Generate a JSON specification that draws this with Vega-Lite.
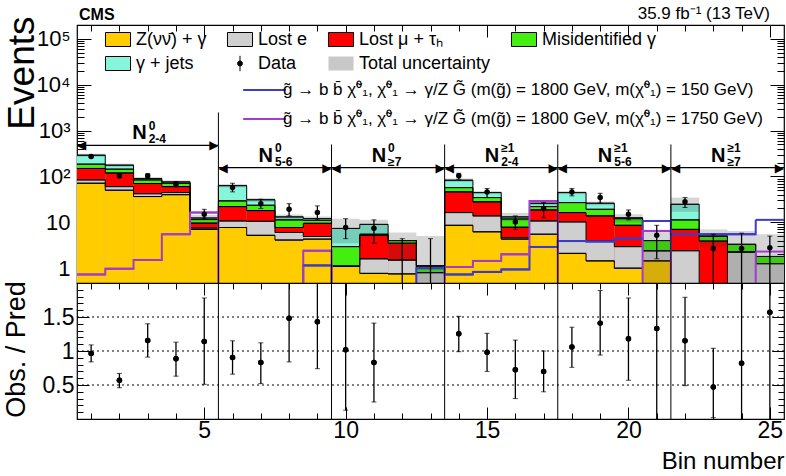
{
"$schema": "https://vega.github.io/schema/vega-lite/v6.json",
"padding": {"left": 1, "top": 4, "right": 2, "bottom": 2},
"spacing": 0,
"bounds": "flush",
"config": {
  "font": "Liberation Sans",
  "view": {"stroke": "black", "strokeWidth": 1.2},
  "axis": {"domain": false, "grid": false, "tickColor": "black", "tickWidth": 1, "labelColor": "black", "titleColor": "black", "labelFont": "Liberation Sans", "titleFont": "Liberation Sans", "titleFontWeight": "normal", "labelOverlap": false, "labelBound": false, "labelFlush": false},
  "legend": {"labelFont": "Liberation Sans", "labelColor": "black"},
  "text": {"font": "Liberation Sans", "color": "black"}
},
"datasets": {
"bins": [
{"bin":1,"lo":0.5,"hi":1.5,"Z":71,"E":13,"Mu":65,"Mis":36,"GJ":105,"data":272,"dlo":258,"dhi":288,"ulo":268,"uhi":312,"r":0.965,"rlo":0.84,"rhi":1.09,"s150":0.2,"s1750":0.73},
{"bin":2,"lo":1.5,"hi":2.5,"Z":50,"E":10,"Mu":59,"Mis":25,"GJ":32,"data":103,"dlo":93,"dhi":114,"ulo":162,"uhi":190,"r":0.57,"rlo":0.46,"rhi":0.67,"s150":0.2,"s1750":0.97},
{"bin":3,"lo":2.5,"hi":3.5,"Z":36.4,"E":5.6,"Mu":28,"Mis":14,"GJ":6,"data":103,"dlo":93,"dhi":114,"ulo":83,"uhi":97,"r":1.156,"rlo":0.91,"rhi":1.4,"s150":0.2,"s1750":1.51},
{"bin":4,"lo":3.5,"hi":4.5,"Z":40,"E":4.5,"Mu":15.5,"Mis":11,"GJ":5,"data":67.6,"dlo":59,"dhi":77,"ulo":70,"uhi":82,"r":0.887,"rlo":0.63,"rhi":1.13,"s150":0.2,"s1750":5.5},
{"bin":5,"lo":4.5,"hi":5.5,"Z":7.0,"E":0.5,"Mu":2.1,"Mis":1.9,"GJ":0.9,"data":15,"dlo":12,"dhi":19.2,"ulo":10.5,"uhi":14.5,"r":1.14,"rlo":0.51,"rhi":1.78,"s150":0.2,"s1750":16.3},
{"bin":6,"lo":5.5,"hi":6.5,"Z":7.7,"E":3.0,"Mu":11.3,"Mis":7.3,"GJ":33.7,"data":57,"dlo":46,"dhi":71,"ulo":58,"uhi":68,"r":0.906,"rlo":0.66,"rhi":1.15,"s150":0.2,"s1750":0.2},
{"bin":7,"lo":6.5,"hi":7.5,"Z":5.2,"E":5.3,"Mu":7.5,"Mis":5.5,"GJ":7.5,"data":25.5,"dlo":19.9,"dhi":31.8,"ulo":28,"uhi":34,"r":0.83,"rlo":0.52,"rhi":1.12,"s150":0.2,"s1750":0.2},
{"bin":8,"lo":7.5,"hi":8.5,"Z":4.1,"E":1.9,"Mu":1.7,"Mis":3.6,"GJ":1.8,"data":19.2,"dlo":13.8,"dhi":25.5,"ulo":11.5,"uhi":14.8,"r":1.48,"rlo":0.84,"rhi":2.5,"s150":0.2,"s1750":0.3},
{"bin":9,"lo":8.5,"hi":9.5,"Z":4.3,"E":0.6,"Mu":4.6,"Mis":1.5,"GJ":1.0,"data":16.3,"dlo":11.3,"dhi":22.8,"ulo":10.7,"uhi":13.4,"r":1.43,"rlo":0.74,"rhi":2.5,"s150":1.15,"s1750":2.4},
{"bin":10,"lo":9.5,"hi":10.5,"Z":1.1,"E":0,"Mu":0,"Mis":1.85,"GJ":4.4,"data":7.7,"dlo":4.4,"dhi":12,"ulo":3.5,"uhi":12,"r":1.02,"rlo":0.13,"rhi":2.5,"s150":0.45,"s1750":0.3},
{"bin":11,"lo":10.5,"hi":11.5,"Z":0.77,"E":0.83,"Mu":3.6,"Mis":0.3,"GJ":3.5,"data":7.4,"dlo":3.5,"dhi":11.3,"ulo":5.5,"uhi":11.3,"r":0.83,"rlo":0.25,"rhi":1.41,"s150":0.45,"s1750":0.3},
{"bin":12,"lo":11.5,"hi":12.5,"Z":0.75,"E":0.75,"Mu":2.0,"Mis":0.5,"GJ":0,"data":null,"dlo":0.3,"dhi":4.4,"ulo":1.5,"uhi":6.0,"r":null,"rlo":null,"rhi":null,"s150":0.45,"s1750":0.3},
{"bin":13,"lo":12.5,"hi":13.5,"Z":0.2,"E":0.6,"Mu":0,"Mis":0.32,"GJ":0,"data":null,"dlo":0.3,"dhi":4.4,"ulo":0.3,"uhi":5.0,"r":null,"rlo":null,"rhi":null,"s150":1.0,"s1750":0.3},
{"bin":14,"lo":13.5,"hi":14.5,"Z":8.6,"E":7.7,"Mu":29.7,"Mis":11,"GJ":25.6,"data":103,"dlo":87,"dhi":117,"ulo":76,"uhi":90,"r":1.254,"rlo":0.99,"rhi":1.51,"s150":0.73,"s1750":1.06},
{"bin":15,"lo":14.5,"hi":15.5,"Z":6.2,"E":7.6,"Mu":14.1,"Mis":6.7,"GJ":9.9,"data":46,"dlo":34.6,"dhi":54.5,"ulo":41,"uhi":48,"r":0.98,"rlo":0.7,"rhi":1.26,"s150":0.83,"s1750":1.44},
{"bin":16,"lo":15.5,"hi":16.5,"Z":4.3,"E":0.3,"Mu":3.2,"Mis":4.0,"GJ":1.3,"data":10.2,"dlo":7.0,"dhi":13.8,"ulo":10.5,"uhi":16,"r":0.725,"rlo":0.3,"rhi":1.16,"s150":0.94,"s1750":2.0},
{"bin":17,"lo":16.5,"hi":17.5,"Z":5.5,"E":5.2,"Mu":7.9,"Mis":3.4,"GJ":4,"data":19.9,"dlo":12.6,"dhi":26.9,"ulo":23.5,"uhi":28.5,"r":0.7,"rlo":0.4,"rhi":1.0,"s150":2.9,"s1750":29},
{"bin":18,"lo":17.5,"hi":18.5,"Z":2.1,"E":8.1,"Mu":6.1,"Mis":10.6,"GJ":17.6,"data":46,"dlo":37.7,"dhi":54.5,"ulo":41,"uhi":48,"r":1.06,"rlo":0.76,"rhi":1.35,"s150":3.9,"s1750":0.3},
{"bin":19,"lo":18.5,"hi":19.5,"Z":1.44,"E":2.46,"Mu":9.9,"Mis":5.4,"GJ":6.8,"data":34.6,"dlo":26,"dhi":42.9,"ulo":23.5,"uhi":28.5,"r":1.41,"rlo":0.94,"rhi":1.89,"s150":3.8,"s1750":0.3},
{"bin":20,"lo":19.5,"hi":20.5,"Z":1.0,"E":1.95,"Mu":5.65,"Mis":3.4,"GJ":0.5,"data":15,"dlo":11.3,"dhi":18.6,"ulo":10,"uhi":15,"r":1.18,"rlo":0.57,"rhi":1.78,"s150":4.4,"s1750":0.3},
{"bin":21,"lo":20.5,"hi":21.5,"Z":1.44,"E":0.96,"Mu":0,"Mis":1.6,"GJ":0,"data":5.2,"dlo":1.6,"dhi":8.6,"ulo":0.3,"uhi":6.2,"r":1.33,"rlo":-0.1,"rhi":2.5,"s150":10.7,"s1750":6.5},
{"bin":22,"lo":21.5,"hi":22.5,"Z":0.1,"E":2.3,"Mu":4.6,"Mis":4.3,"GJ":13.4,"data":27.9,"dlo":21,"dhi":34.6,"ulo":17,"uhi":34.6,"r":1.15,"rlo":0.49,"rhi":1.79,"s150":5.5,"s1750":0.3},
{"bin":23,"lo":22.5,"hi":23.5,"Z":0.1,"E":0.1,"Mu":3.7,"Mis":1.1,"GJ":0,"data":2.7,"dlo":0.3,"dhi":5.5,"ulo":3,"uhi":7,"r":0.47,"rlo":0.02,"rhi":1.04,"s150":5.5,"s1750":0.3},
{"bin":24,"lo":23.5,"hi":24.5,"Z":0.1,"E":2.15,"Mu":0,"Mis":1.05,"GJ":0,"data":2.7,"dlo":0.3,"dhi":5.8,"ulo":0.3,"uhi":6.5,"r":0.82,"rlo":-0.1,"rhi":2.5,"s150":5.5,"s1750":0.3},
{"bin":25,"lo":24.5,"hi":25.5,"Z":0.1,"E":1.15,"Mu":0,"Mis":0.55,"GJ":0,"data":2.8,"dlo":0.3,"dhi":5.0,"ulo":0.3,"uhi":5.5,"r":1.57,"rlo":-0.1,"rhi":2.5,"s150":11.3,"s1750":2.3}
],
"regions": [
{"x1":0.5,"x2":5.5,"mid":3,"sup":"0","sub":"2-4"},
{"x1":5.5,"x2":9.5,"mid":7.5,"sup":"0","sub":"5-6"},
{"x1":9.5,"x2":13.5,"mid":11.5,"sup":"0","sub":"≥7"},
{"x1":13.5,"x2":17.5,"mid":15.5,"sup":"≥1","sub":"2-4"},
{"x1":17.5,"x2":21.5,"mid":19.5,"sup":"≥1","sub":"5-6"},
{"x1":21.5,"x2":25.5,"mid":23.5,"sup":"≥1","sub":"≥7"}
]
},
"vconcat": [
{
 "width": 707, "height": 258,
 "data": {"name": "bins"},
 "layer": [
  {"layer": [
    {"transform": [{"fold": ["Z","E","Mu","Mis","GJ"], "as": ["key","n"]}, {"window": [{"op": "sum", "field": "n", "as": "cum"}, {"op": "row_number", "as": "idx"}], "groupby": ["bin"], "frame": [null, 0]}],
     "layer": [
      {"mark": {"type": "rect", "clip": true},
       "encoding": {
        "x": {"field": "lo", "type": "quantitative", "scale": {"domain": [0.5, 25.5], "nice": false, "zero": false},
              "axis": {"orient": "bottom", "values": [1,2,3,4,5,6,7,8,9,10,11,12,13,14,15,16,17,18,19,20,21,22,23,24,25], "labels": false, "title": null, "tickSize": {"condition": {"test": "datum.value % 5 === 0", "value": -12}, "value": -6}}},
        "x2": {"field": "hi"},
        "y": {"field": "cum", "type": "quantitative", "scale": {"type": "log", "domain": [0.475, 200000], "nice": false},
              "axis": {"orient": "left", "values": [0.5,0.6,0.7,0.8,0.9,1,2,3,4,5,6,7,8,9,10,20,30,40,50,60,70,80,90,100,200,300,400,500,600,700,800,900,1000,2000,3000,4000,5000,6000,7000,8000,9000,10000,20000,30000,40000,50000,60000,70000,80000,90000,100000],
                       "labelExpr": "datum.value === 1 ? '1' : datum.value === 10 ? '10' : datum.value === 100 ? '10²' : datum.value === 1000 ? '10³' : datum.value === 10000 ? '10⁴' : datum.value === 100000 ? '10⁵' : ''",
                       "labelFontSize": 22, "labelPadding": 21, "labelOverlap": false,
                       "tickSize": {"condition": {"test": "indexof([1,10,100,1000,10000,100000], datum.value) >= 0", "value": -14}, "value": -7},
                       "title": "Events", "titleFontSize": 37, "titleAngle": -90, "titleX": -44, "titleY": -9, "titleAlign": "right", "titleBaseline": "alphabetic"}},
        "y2": {"datum": 0.475},
        "fill": {"field": "key", "type": "nominal",
                 "scale": {"domain": ["Z","E","Mu","Mis","GJ","Data","Unc"], "range": ["#ffcc00","#cfcfcf","#ff0000","#44ee11","#85f5dc","#000000","#c8c8c8"]},
                 "legend": {"title": null, "orient": "none", "legendX": 32, "legendY": 5.5, "direction": "horizontal", "columns": 4,
                            "labelExpr": "datum.label === 'Z' ? 'Z(νν̄) + γ' : datum.label === 'E' ? 'Lost e' : datum.label === 'Mu' ? 'Lost μ + τₕ' : datum.label === 'Mis' ? 'Misidentified γ' : datum.label === 'GJ' ? 'γ + jets' : datum.label === 'Data' ? 'Data' : 'Total uncertainty'",
                            "labelFontSize": 18, "labelOffset": 9, "labelLimit": 400,
                            "symbolSize": 196, "symbolType": "M-1.79,-1H1.79V1H-1.79Z", "symbolStrokeColor": "black", "symbolStrokeWidth": 1, "symbolOpacity": 1,
                            "columnPadding": 18, "rowPadding": 5,
                            "encode": {"symbols": {"update": {
                               "shape": {"signal": "datum.value === 'Data' ? 'M0,-1.1V1.1M-0.35,0A0.35,0.35,0,1,1,0.35,0A0.35,0.35,0,1,1,-0.35,0Z' : 'M-1.79,-1H1.79V1H-1.79Z'"},
                               "stroke": {"signal": "datum.value === 'Unc' ? 'transparent' : 'black'"}}}}}},
        "order": {"field": "idx", "sort": "descending"}
       }},
      {"mark": {"type": "rule", "clip": true, "color": "black", "strokeWidth": 1},
       "encoding": {"x": {"field": "lo", "type": "quantitative"}, "x2": {"field": "hi"}, "y": {"field": "cum", "type": "quantitative"}}},
      {"mark": {"type": "line", "interpolate": "step-after", "clip": true, "color": "black", "strokeWidth": 1},
       "encoding": {"x": {"field": "lo", "type": "quantitative"}, "y": {"field": "cum", "type": "quantitative"}, "detail": {"field": "key"}}}
     ]},
    {"mark": {"type": "rect", "clip": true, "fill": "#333333", "fillOpacity": 0.2},
     "encoding": {"x": {"field": "lo", "type": "quantitative"}, "x2": {"field": "hi"}, "y": {"field": "ulo", "type": "quantitative"}, "y2": {"field": "uhi"}}},
    {"transform": [{"fold": ["s150","s1750"], "as": ["skey","sval"]}],
     "layer": [
      {"mark": {"type": "line", "interpolate": "step-after", "clip": true, "strokeWidth": 2},
       "encoding": {"x": {"field": "lo", "type": "quantitative"}, "y": {"field": "sval", "type": "quantitative"},
        "stroke": {"field": "skey", "type": "nominal", "scale": {"domain": ["s150","s1750"], "range": ["#3c3cc8","#a23ccc"]},
          "legend": {"title": null, "orient": "none", "legendX": 179, "legendY": 56.5, "direction": "vertical",
                     "labelExpr": "datum.label === 's150' ? 'g̃ → b b̄ χ̃⁰₁, χ̃⁰₁ → γ/Z G̃ (m(g̃) = 1800 GeV, m(χ̃⁰₁) = 150 GeV)' : 'g̃ → b b̄ χ̃⁰₁, χ̃⁰₁ → γ/Z G̃ (m(g̃) = 1800 GeV, m(χ̃⁰₁) = 1750 GeV)'",
                     "labelFontSize": 17, "labelLimit": 700, "labelOffset": 10, "rowPadding": 11,
                     "symbolType": "M-6.1,0H6.1", "symbolSize": 49, "symbolStrokeWidth": 2, "symbolFillColor": "transparent"}}}},
      {"mark": {"type": "rule", "clip": true, "strokeWidth": 2},
       "encoding": {"x": {"field": "lo", "type": "quantitative"}, "x2": {"field": "hi"}, "y": {"field": "sval", "type": "quantitative"},
        "stroke": {"condition": {"test": "datum.skey === 's150'", "value": "#3c3cc8"}, "value": "#a23ccc"}}}
     ]},
    {"mark": {"type": "rule", "clip": true, "color": "black", "strokeWidth": 1.3},
     "encoding": {"x": {"field": "bin", "type": "quantitative"}, "y": {"field": "dlo", "type": "quantitative"}, "y2": {"field": "dhi"}}},
    {"mark": {"type": "tick", "clip": true, "color": "black", "orient": "horizontal", "size": 5, "thickness": 1},
     "encoding": {"x": {"field": "bin", "type": "quantitative"}, "y": {"field": "dlo", "type": "quantitative"}}},
    {"mark": {"type": "tick", "clip": true, "color": "black", "orient": "horizontal", "size": 5, "thickness": 1},
     "encoding": {"x": {"field": "bin", "type": "quantitative"}, "y": {"field": "dhi", "type": "quantitative"}}},
    {"mark": {"type": "point", "clip": true, "filled": true, "color": "black", "opacity": 1, "size": 30},
     "encoding": {"x": {"field": "bin", "type": "quantitative"}, "y": {"field": "data", "type": "quantitative"}}},
    {"data": {"name": "regions"}, "transform": [{"filter": "datum.x1 === 0.5"}],
     "layer": [
      {"mark": {"type": "rule", "color": "black", "strokeWidth": 1}, "encoding": {"x": {"field": "x2", "type": "quantitative"}, "y": {"datum": 2480}, "y2": {"datum": 0.475}}},
      {"mark": {"type": "rule", "color": "black", "strokeWidth": 1.2}, "encoding": {"x": {"field": "x1", "type": "quantitative"}, "x2": {"field": "x2"}, "y": {"datum": 473}}},
      {"mark": {"type": "text", "text": "◀", "font": "DejaVu Sans", "fontSize": 12, "align": "left", "baseline": "middle"}, "encoding": {"x": {"field": "x1", "type": "quantitative"}, "y": {"datum": 473}}},
      {"mark": {"type": "text", "text": "▶", "font": "DejaVu Sans", "fontSize": 12, "align": "right", "baseline": "middle"}, "encoding": {"x": {"field": "x2", "type": "quantitative"}, "y": {"datum": 473}}},
      {"mark": {"type": "text", "text": "N", "fontSize": 20, "fontWeight": "bold", "align": "right", "baseline": "middle", "dx": -1}, "encoding": {"x": {"field": "mid", "type": "quantitative"}, "y": {"datum": 864}}},
      {"mark": {"type": "text", "fontSize": 12, "fontWeight": "bold", "align": "left", "baseline": "middle", "dx": 1, "dy": -7}, "encoding": {"x": {"field": "mid", "type": "quantitative"}, "y": {"datum": 864}, "text": {"field": "sup"}}},
      {"mark": {"type": "text", "fontSize": 12, "fontWeight": "bold", "align": "left", "baseline": "middle", "dx": 1, "dy": 6}, "encoding": {"x": {"field": "mid", "type": "quantitative"}, "y": {"datum": 864}, "text": {"field": "sub"}}}
     ]},
    {"data": {"name": "regions"}, "transform": [{"filter": "datum.x1 > 0.5"}],
     "layer": [
      {"transform": [{"filter": "datum.x2 < 25"}], "mark": {"type": "rule", "color": "black", "strokeWidth": 1}, "encoding": {"x": {"field": "x2", "type": "quantitative"}, "y": {"datum": 497}, "y2": {"datum": 0.475}}},
      {"mark": {"type": "rule", "color": "black", "strokeWidth": 1.2}, "encoding": {"x": {"field": "x1", "type": "quantitative"}, "x2": {"field": "x2"}, "y": {"datum": 156}}},
      {"mark": {"type": "text", "text": "◀", "font": "DejaVu Sans", "fontSize": 12, "align": "left", "baseline": "middle"}, "encoding": {"x": {"field": "x1", "type": "quantitative"}, "y": {"datum": 156}}},
      {"mark": {"type": "text", "text": "▶", "font": "DejaVu Sans", "fontSize": 12, "align": "right", "baseline": "middle"}, "encoding": {"x": {"field": "x2", "type": "quantitative"}, "y": {"datum": 156}}},
      {"mark": {"type": "text", "text": "N", "fontSize": 20, "fontWeight": "bold", "align": "right", "baseline": "middle", "dx": -2}, "encoding": {"x": {"field": "mid", "type": "quantitative"}, "y": {"datum": 282}}},
      {"mark": {"type": "text", "fontSize": 12, "fontWeight": "bold", "align": "left", "baseline": "middle", "dx": 0, "dy": -8}, "encoding": {"x": {"field": "mid", "type": "quantitative"}, "y": {"datum": 282}, "text": {"field": "sup"}}},
      {"mark": {"type": "text", "fontSize": 12, "fontWeight": "bold", "align": "left", "baseline": "middle", "dx": 0, "dy": 6}, "encoding": {"x": {"field": "mid", "type": "quantitative"}, "y": {"datum": 282}, "text": {"field": "sub"}}}
     ]},
    {"data": {"values": [{}]},
     "layer": [
      {"mark": {"type": "text", "text": "CMS", "fontSize": 16, "fontWeight": "bold", "align": "left", "baseline": "bottom", "dx": 2, "dy": -2}, "encoding": {"x": {"datum": 0.5, "type": "quantitative"}, "y": {"datum": 200000, "type": "quantitative"}}},
      {"mark": {"type": "text", "text": "35.9 fb⁻¹ (13 TeV)", "fontSize": 17, "align": "right", "baseline": "bottom", "dx": -14, "dy": -2}, "encoding": {"x": {"datum": 25.5, "type": "quantitative"}, "y": {"datum": 200000, "type": "quantitative"}}}
     ]}
  ]},
  {"mark": {"type": "point", "opacity": 0},
   "encoding": {
    "x": {"field": "bin", "type": "quantitative", "scale": {"domain": [0.5, 25.5], "nice": false, "zero": false},
          "axis": {"orient": "top", "values": [1,2,3,4,5,6,7,8,9,10,11,12,13,14,15,16,17,18,19,20,21,22,23,24,25], "labels": false, "title": null, "tickSize": {"condition": {"test": "datum.value % 5 === 0", "value": -12}, "value": -6}}},
    "y": {"field": "data", "type": "quantitative", "scale": {"type": "log", "domain": [0.475, 200000], "nice": false},
          "axis": {"orient": "right", "values": [0.5,0.6,0.7,0.8,0.9,1,2,3,4,5,6,7,8,9,10,20,30,40,50,60,70,80,90,100,200,300,400,500,600,700,800,900,1000,2000,3000,4000,5000,6000,7000,8000,9000,10000,20000,30000,40000,50000,60000,70000,80000,90000,100000], "labels": false, "title": null,
                   "tickSize": {"condition": {"test": "indexof([1,10,100,1000,10000,100000], datum.value) >= 0", "value": -14}, "value": -7}}}
   }}
 ],
 "resolve": {"axis": {"x": "independent", "y": "independent"}}
},
{
 "width": 707, "height": 136,
 "data": {"name": "bins"},
 "layer": [
  {"mark": {"type": "point", "opacity": 0},
   "encoding": {
    "x": {"field": "bin", "type": "quantitative", "scale": {"domain": [0.5, 25.5], "nice": false, "zero": false},
          "axis": {"orient": "bottom", "values": [1,2,3,4,5,6,7,8,9,10,11,12,13,14,15,16,17,18,19,20,21,22,23,24,25], "labels": false, "title": null, "tickSize": {"condition": {"test": "datum.value % 5 === 0", "value": -12}, "value": -6}}},
    "y": {"field": "r", "type": "quantitative", "scale": {"domain": [0, 2], "nice": false, "zero": false},
          "axis": {"orient": "left", "values": [0.1,0.2,0.3,0.4,0.5,0.6,0.7,0.8,0.9,1,1.1,1.2,1.3,1.4,1.5,1.6,1.7,1.8,1.9], "labels": false, "title": null,
                   "tickSize": {"condition": {"test": "datum.value === 0.5 || datum.value === 1 || datum.value === 1.5", "value": -12}, "value": -6}}}
   }},
  {"layer": [
    {"mark": {"type": "point", "clip": true, "filled": true, "color": "black", "opacity": 1, "size": 30},
     "encoding": {
      "x": {"field": "bin", "type": "quantitative", "scale": {"domain": [0.5, 25.5], "nice": false, "zero": false},
            "axis": {"orient": "bottom", "values": [5,10,15,20,25], "ticks": false, "labelFontSize": 23, "labelPadding": 0,
                     "title": "Bin number", "titleFontSize": 24, "titleAnchor": "end", "titlePadding": 7}},
      "y": {"field": "r", "type": "quantitative", "scale": {"domain": [0, 2], "nice": false, "zero": false},
            "axis": {"orient": "left", "values": [0.5,1,1.5], "format": "~g", "ticks": false, "labelFontSize": 23, "labelPadding": 3,
                     "title": "Obs. / Pred", "titleFontSize": 27, "titleAngle": -90, "titleX": -53, "titleY": 66, "titleAlign": "center", "titleBaseline": "alphabetic"}}
     }},
    {"data": {"values": [{}]},
     "layer": [
      {"mark": {"type": "rule", "color": "black", "strokeWidth": 1, "strokeDash": [2, 3]}, "encoding": {"y": {"datum": 0.5, "type": "quantitative"}}},
      {"mark": {"type": "rule", "color": "black", "strokeWidth": 1, "strokeDash": [2, 3]}, "encoding": {"y": {"datum": 1, "type": "quantitative"}}},
      {"mark": {"type": "rule", "color": "black", "strokeWidth": 1, "strokeDash": [2, 3]}, "encoding": {"y": {"datum": 1.5, "type": "quantitative"}}}
     ]},
    {"data": {"name": "regions"}, "transform": [{"filter": "datum.x2 < 25"}],
     "mark": {"type": "rule", "color": "black", "strokeWidth": 1},
     "encoding": {"x": {"field": "x2", "type": "quantitative"}}},
    {"mark": {"type": "rule", "clip": true, "color": "black", "strokeWidth": 1.3},
     "encoding": {"x": {"field": "bin", "type": "quantitative"}, "y": {"field": "rlo", "type": "quantitative"}, "y2": {"field": "rhi"}}},
    {"mark": {"type": "tick", "clip": true, "color": "black", "orient": "horizontal", "size": 5, "thickness": 1},
     "encoding": {"x": {"field": "bin", "type": "quantitative"}, "y": {"field": "rlo", "type": "quantitative"}}},
    {"mark": {"type": "tick", "clip": true, "color": "black", "orient": "horizontal", "size": 5, "thickness": 1},
     "encoding": {"x": {"field": "bin", "type": "quantitative"}, "y": {"field": "rhi", "type": "quantitative"}}},
    {"mark": {"type": "point", "clip": true, "filled": true, "color": "black", "opacity": 1, "size": 30},
     "encoding": {"x": {"field": "bin", "type": "quantitative"}, "y": {"field": "r", "type": "quantitative"}}}
  ]},
  {"mark": {"type": "point", "opacity": 0},
   "encoding": {
    "x": {"field": "bin", "type": "quantitative", "scale": {"domain": [0.5, 25.5], "nice": false, "zero": false},
          "axis": {"orient": "top", "values": [1,2,3,4,5,6,7,8,9,10,11,12,13,14,15,16,17,18,19,20,21,22,23,24,25], "labels": false, "title": null, "tickSize": {"condition": {"test": "datum.value % 5 === 0", "value": -12}, "value": -6}}},
    "y": {"field": "r", "type": "quantitative", "scale": {"domain": [0, 2], "nice": false, "zero": false},
          "axis": {"orient": "right", "values": [0.1,0.2,0.3,0.4,0.5,0.6,0.7,0.8,0.9,1,1.1,1.2,1.3,1.4,1.5,1.6,1.7,1.8,1.9], "labels": false, "title": null,
                   "tickSize": {"condition": {"test": "datum.value === 0.5 || datum.value === 1 || datum.value === 1.5", "value": -12}, "value": -6}}}
   }}
 ],
 "resolve": {"axis": {"x": "independent", "y": "independent"}}
}
]
}
